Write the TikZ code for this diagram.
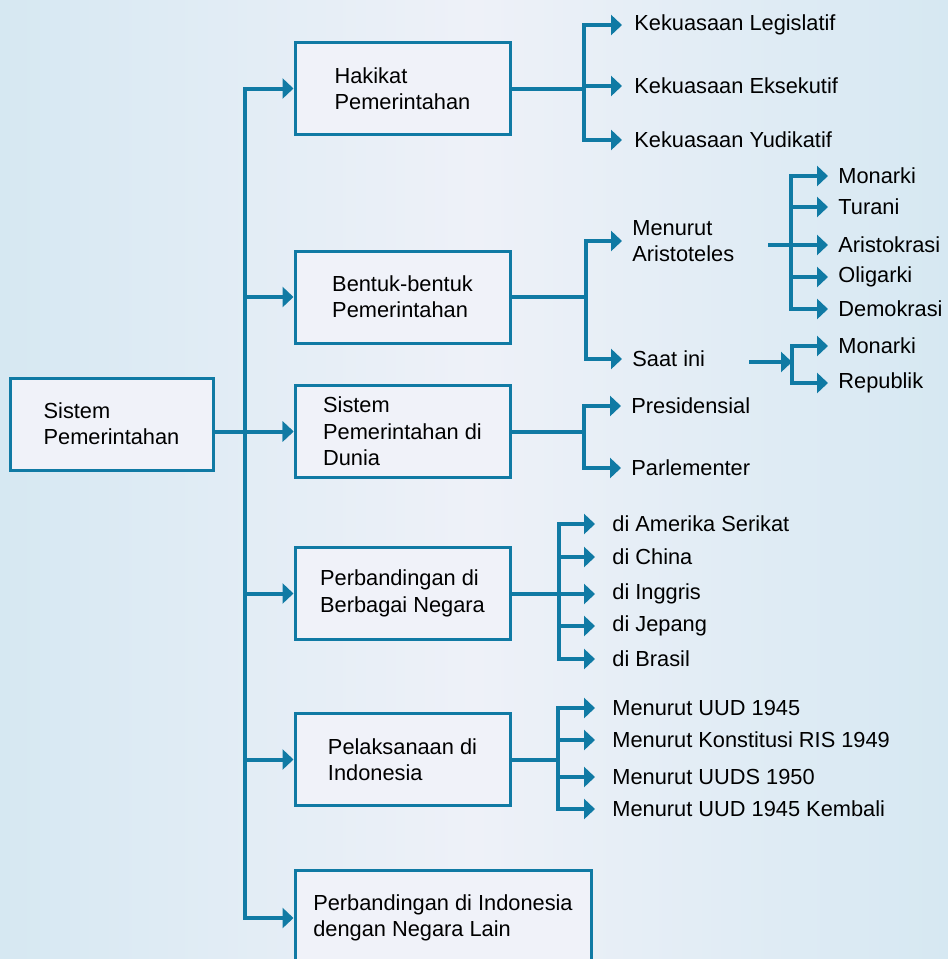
\documentclass[tikz,border=0pt]{standalone}
\usepackage{fontspec}
\setmainfont{Liberation Sans}
\usetikzlibrary{arrows.meta}
\definecolor{garis}{RGB}{16,122,164}
\definecolor{latar}{RGB}{214,232,242}
\definecolor{latarterang}{RGB}{238,241,248}
\definecolor{isikotak}{RGB}{240,242,249}

\begin{document}
\begin{tikzpicture}[x=0.5pt, y=-0.5pt,
    kotak/.style={draw=garis, line width=1.5pt, fill=isikotak, align=left,
      minimum width=107.5pt, minimum height=46pt, font=\fontsize{10.9}{13.2}\selectfont},
    daun/.style={anchor=west, inner xsep=5pt, inner ysep=1pt, align=left,
      font=\fontsize{10.9}{13.2}\selectfont},
    garisan/.style={draw=garis, line width=2pt, line cap=rect},
    panah/.style={garisan, -{Triangle[length=5.5pt, width=10pt]}}]

    \useasboundingbox (0,0) rectangle (948,959);
    \shade[left color=latar, right color=latar, middle color=latarterang] (0,0) rectangle (948,959);
    \clip (0,0) rectangle (948,959);

    % kotak utama
    \node[kotak, minimum width=101.5pt] (sistem) at (111.5,424) {Sistem\\Pemerintahan};
    \node[kotak] (hakikat) at (402.5,88.5) {Hakikat\\Pemerintahan};
    \node[kotak] (bentuk) at (402.5,297) {Bentuk-bentuk\\Pemerintahan};
    \node[kotak] (dunia) at (402.5,431.5) {Sistem\\Pemerintahan di\\Dunia};
    \node[kotak] (negara) at (402.5,593.5) {Perbandingan di\\Berbagai Negara};
    \node[kotak] (indonesia) at (402.5,759.5) {Pelaksanaan di\\Indonesia};
    \node[kotak, minimum width=148pt, minimum height=48pt] (lain) at (443,918) {Perbandingan di Indonesia\\dengan Negara Lain};

    \coordinate (batang) at (245,0);
    \draw[garisan] (batang |- hakikat.west) -- (batang |- lain.west);
    \draw[panah] (sistem.east |- dunia.west) -- (dunia.west);
    \foreach \k in {hakikat,bentuk,dunia,negara,indonesia,lain}
      \draw[panah] (batang |- \k.west) -- (\k.west);

    % hakikat
    \node[daun, inner xsep=6pt] (legislatif) at (622,25) {Kekuasaan Legislatif};
    \node[daun, inner xsep=6pt] (eksekutif) at (622,86) {Kekuasaan Eksekutif};
    \node[daun, inner xsep=6pt] (yudikatif) at (622,140) {Kekuasaan Yudikatif};
    \coordinate (c1) at (584,0);
    \draw[garisan] (hakikat.east) -- (c1 |- hakikat.east);
    \draw[garisan] (c1 |- legislatif.west) -- (c1 |- yudikatif.west);
    \foreach \d in {legislatif,eksekutif,yudikatif}
      \draw[panah] (c1 |- \d.west) -- (\d.west);

    % bentuk
    \node[daun] (aristoteles) at (622,241) {Menurut\\Aristoteles};
    \node[daun] (saatini) at (622,359) {Saat ini};
    \coordinate (c2) at (586,0);
    \draw[garisan] (bentuk.east) -- (c2 |- bentuk.east);
    \draw[garisan] (c2 |- aristoteles.west) -- (c2 |- saatini.west);
    \foreach \d in {aristoteles,saatini}
      \draw[panah] (c2 |- \d.west) -- (\d.west);

    \node[daun] (monarki) at (828,176) {Monarki};
    \node[daun] (turani) at (828,207) {Turani};
    \node[daun] (aristokrasi) at (828,245) {Aristokrasi};
    \node[daun] (oligarki) at (828,277) {Oligarki};
    \node[daun] (demokrasi) at (828,309) {Demokrasi};
    \coordinate (ar) at (770,245);
    \coordinate (c21) at (791,0);
    \draw[garisan] (ar) -- (c21 |- ar);
    \draw[garisan] (c21 |- monarki.west) -- (c21 |- demokrasi.west);
    \foreach \d in {monarki,turani,aristokrasi,oligarki,demokrasi}
      \draw[panah] (c21 |- \d.west) -- (\d.west);

    \node[daun] (monarkii) at (828,346) {Monarki};
    \node[daun] (republik) at (828,383) {Republik};
    \coordinate (si) at (751,362);
    \coordinate (c22) at (792,0);
    \draw[panah] (si) -- (c22 |- si);
    \draw[garisan] (c22 |- monarkii.west) -- (c22 |- republik.west);
    \foreach \d in {monarkii,republik}
      \draw[panah] (c22 |- \d.west) -- (\d.west);

    % dunia
    \node[daun] (presidensial) at (621,406) {Presidensial};
    \node[daun] (parlementer) at (621,468) {Parlementer};
    \coordinate (c3) at (584,0);
    \draw[garisan] (dunia.east) -- (c3 |- dunia.east);
    \draw[garisan] (c3 |- presidensial.west) -- (c3 |- parlementer.west);
    \foreach \d in {presidensial,parlementer}
      \draw[panah] (c3 |- \d.west) -- (\d.west);

    % negara
    \node[daun, inner xsep=8.5pt] (amerika) at (595,524) {di Amerika Serikat};
    \node[daun, inner xsep=8.5pt] (china) at (595,557) {di China};
    \node[daun, inner xsep=8.5pt] (inggris) at (595,594) {di Inggris};
    \node[daun, inner xsep=8.5pt] (jepang) at (595,626) {di Jepang};
    \node[daun, inner xsep=8.5pt] (brasil) at (595,659) {di Brasil};
    \coordinate (c4) at (559,0);
    \draw[garisan] (negara.east) -- (c4 |- negara.east);
    \draw[garisan] (c4 |- amerika.west) -- (c4 |- brasil.west);
    \foreach \d in {amerika,china,inggris,jepang,brasil}
      \draw[panah] (c4 |- \d.west) -- (\d.west);

    % indonesia
    \node[daun, inner xsep=8.5pt] (uud) at (595,708) {Menurut UUD 1945};
    \node[daun, inner xsep=8.5pt] (ris) at (595,740) {Menurut Konstitusi RIS 1949};
    \node[daun, inner xsep=8.5pt] (uuds) at (595,777) {Menurut UUDS 1950};
    \node[daun, inner xsep=8.5pt] (kembali) at (595,809) {Menurut UUD 1945 Kembali};
    \coordinate (c5) at (558,0);
    \draw[garisan] (indonesia.east) -- (c5 |- indonesia.east);
    \draw[garisan] (c5 |- uud.west) -- (c5 |- kembali.west);
    \foreach \d in {uud,ris,uuds,kembali}
      \draw[panah] (c5 |- \d.west) -- (\d.west);
\end{tikzpicture}
\end{document}
